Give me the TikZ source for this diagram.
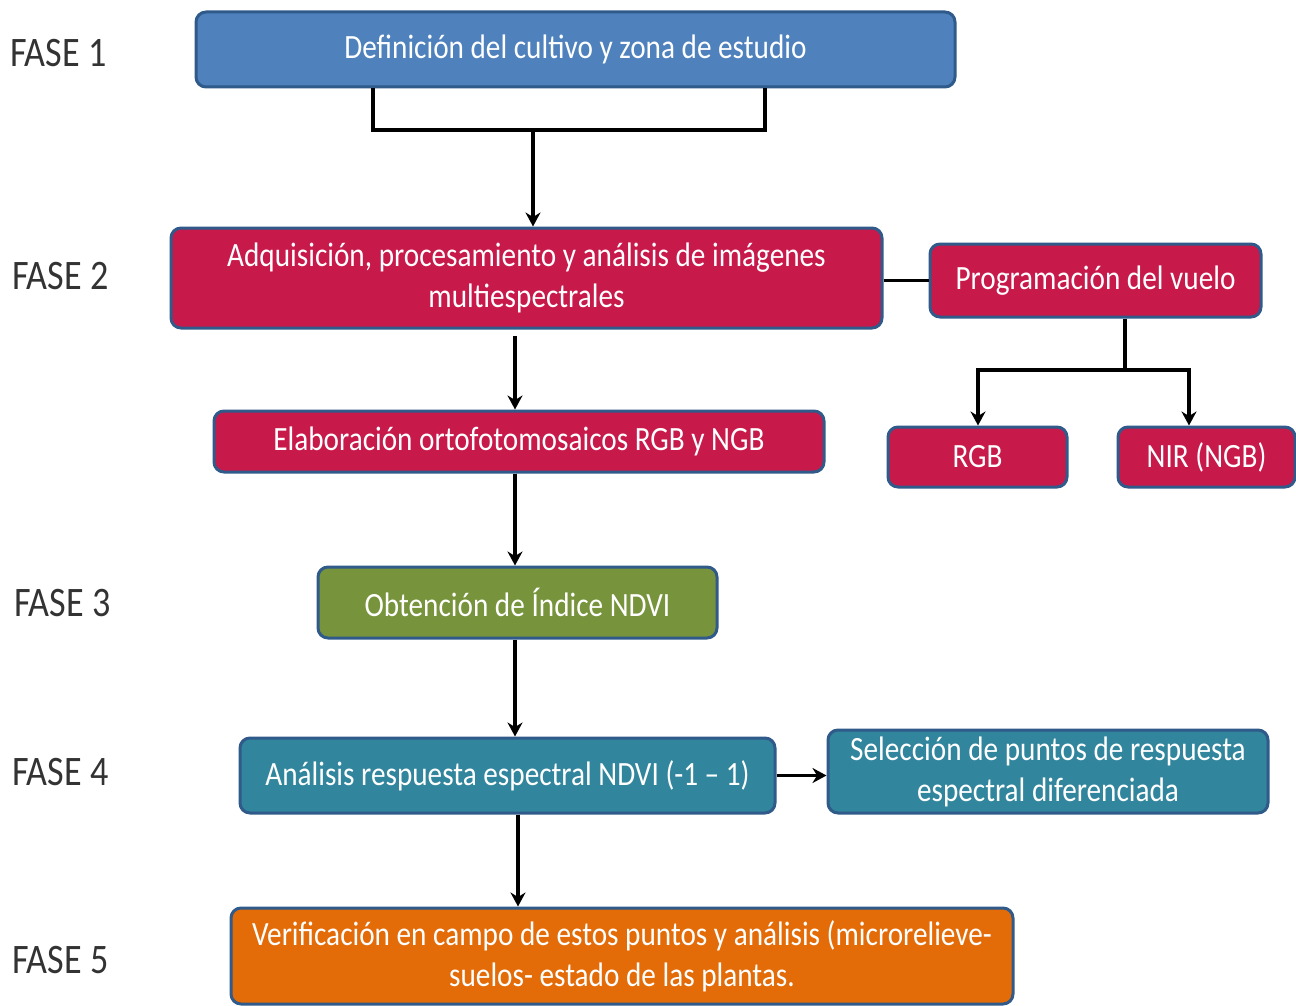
\documentclass[tikz,border=0pt]{standalone}
\usepackage{fontspec}
\setmainfont{Carlito}[FakeStretch=0.86]
\usetikzlibrary{arrows.meta,calc}
\definecolor{cblue}{HTML}{4F81BD}
\definecolor{ccrim}{HTML}{C8194B}
\definecolor{cgreen}{HTML}{77933C}
\definecolor{cteal}{HTML}{31859C}
\definecolor{corange}{HTML}{E36C09}
\definecolor{cedge}{HTML}{2F5A8A}
\definecolor{clabel}{HTML}{333333}
\tikzset{
  box/.style={draw=cedge, line width=3pt, rounded corners=10pt, text=white,
    align=center, inner sep=0pt, font=\fontsize{34}{41}\selectfont},
  phase/.style={text=clabel, font=\fontsize{42}{44}\selectfont, anchor=west, inner sep=0pt},
  conn/.style={line width=3.6pt, black},
  arr/.style={conn, -{Stealth[length=14pt,width=15pt]}},
}
\begin{document}
\begin{tikzpicture}[x=1pt,y=-1pt]
\useasboundingbox (0,0) rectangle (1296,1006);
% boxes
\node[box, fill=cblue, minimum width=759pt, minimum height=75pt] (b1) at (575.5,49.5) {Definición del cultivo y zona de estudio};
\node[box, fill=ccrim, minimum width=711pt, minimum height=100pt] (b2) at (526.5,278) {Adquisición, procesamiento y análisis de imágenes\\multiespectrales};
\node[box, fill=ccrim, minimum width=331pt, minimum height=73pt] (prog) at (1095.5,280.5) {Programación del vuelo};
\node[box, fill=ccrim, minimum width=179pt, minimum height=60pt] (rgb) at (977.5,457) {RGB};
\node[box, fill=ccrim, minimum width=177pt, minimum height=60pt] (nir) at (1206.5,457) {NIR (NGB)};
\node[box, fill=ccrim, minimum width=610pt, minimum height=61pt] (elab) at (519,441.5) {Elaboración ortofotomosaicos RGB y NGB};
\node[box, fill=cgreen, minimum width=399pt, minimum height=71pt] (ndvi) at (517.5,602.5) {Obtención de Índice NDVI};
\node[box, fill=cteal, minimum width=535pt, minimum height=75pt] (anal) at (507.5,775.5) {Análisis respuesta espectral NDVI (-1 – 1)};
\node[box, fill=cteal, minimum width=440pt, minimum height=83pt] (sel) at (1048,771.5) {Selección de puntos de respuesta\\espectral diferenciada};
\node[box, fill=corange, minimum width=782pt, minimum height=96pt] (verif) at (622,956) {Verificación en campo de estos puntos y análisis (microrelieve-\\suelos- estado de las plantas.};
% phase labels
\node[phase] (f1) at (10,53) {FASE 1};
\node[phase] (f2) at (12,276) {FASE 2};
\node[phase] (f3) at (14,603) {FASE 3};
\node[phase] (f4) at (12,772) {FASE 4};
\node[phase] (f5) at (12,960) {FASE 5};
% connectors
\coordinate (bl) at (373,130);
\coordinate (br) at (765,130);
\coordinate (bm) at (533,130);
\draw[conn] (b1.south -| bl) -- (bl) -- (br) -- (b1.south -| br);
\draw[arr] (bm) -- (bm |- b2.north);
\coordinate (x1) at (515,0);
\draw[arr] (b2.south -| x1) ++(0,6) -- (elab.north -| x1);
\draw[arr] (elab.south -| x1) -- (ndvi.north -| x1);
\draw[arr] (ndvi.south -| x1) -- (anal.north -| x1);
\coordinate (x2) at (518,0);
\draw[arr] (anal.south -| x2) -- (verif.north -| x2);
\draw[arr] (anal.east) -- (sel.west |- anal.east);
\draw[conn] (b2.east |- prog.west) -- (prog.west);
\coordinate (pj) at (1125,370);
\coordinate (lr) at (978,370);
\coordinate (rr) at (1189,370);
\draw[conn] (prog.south -| pj) -- (pj);
\draw[arr] (pj) -- (lr) -- (lr |- rgb.north);
\draw[arr] (pj) -- (rr) -- (rr |- nir.north);
\end{tikzpicture}
\end{document}
